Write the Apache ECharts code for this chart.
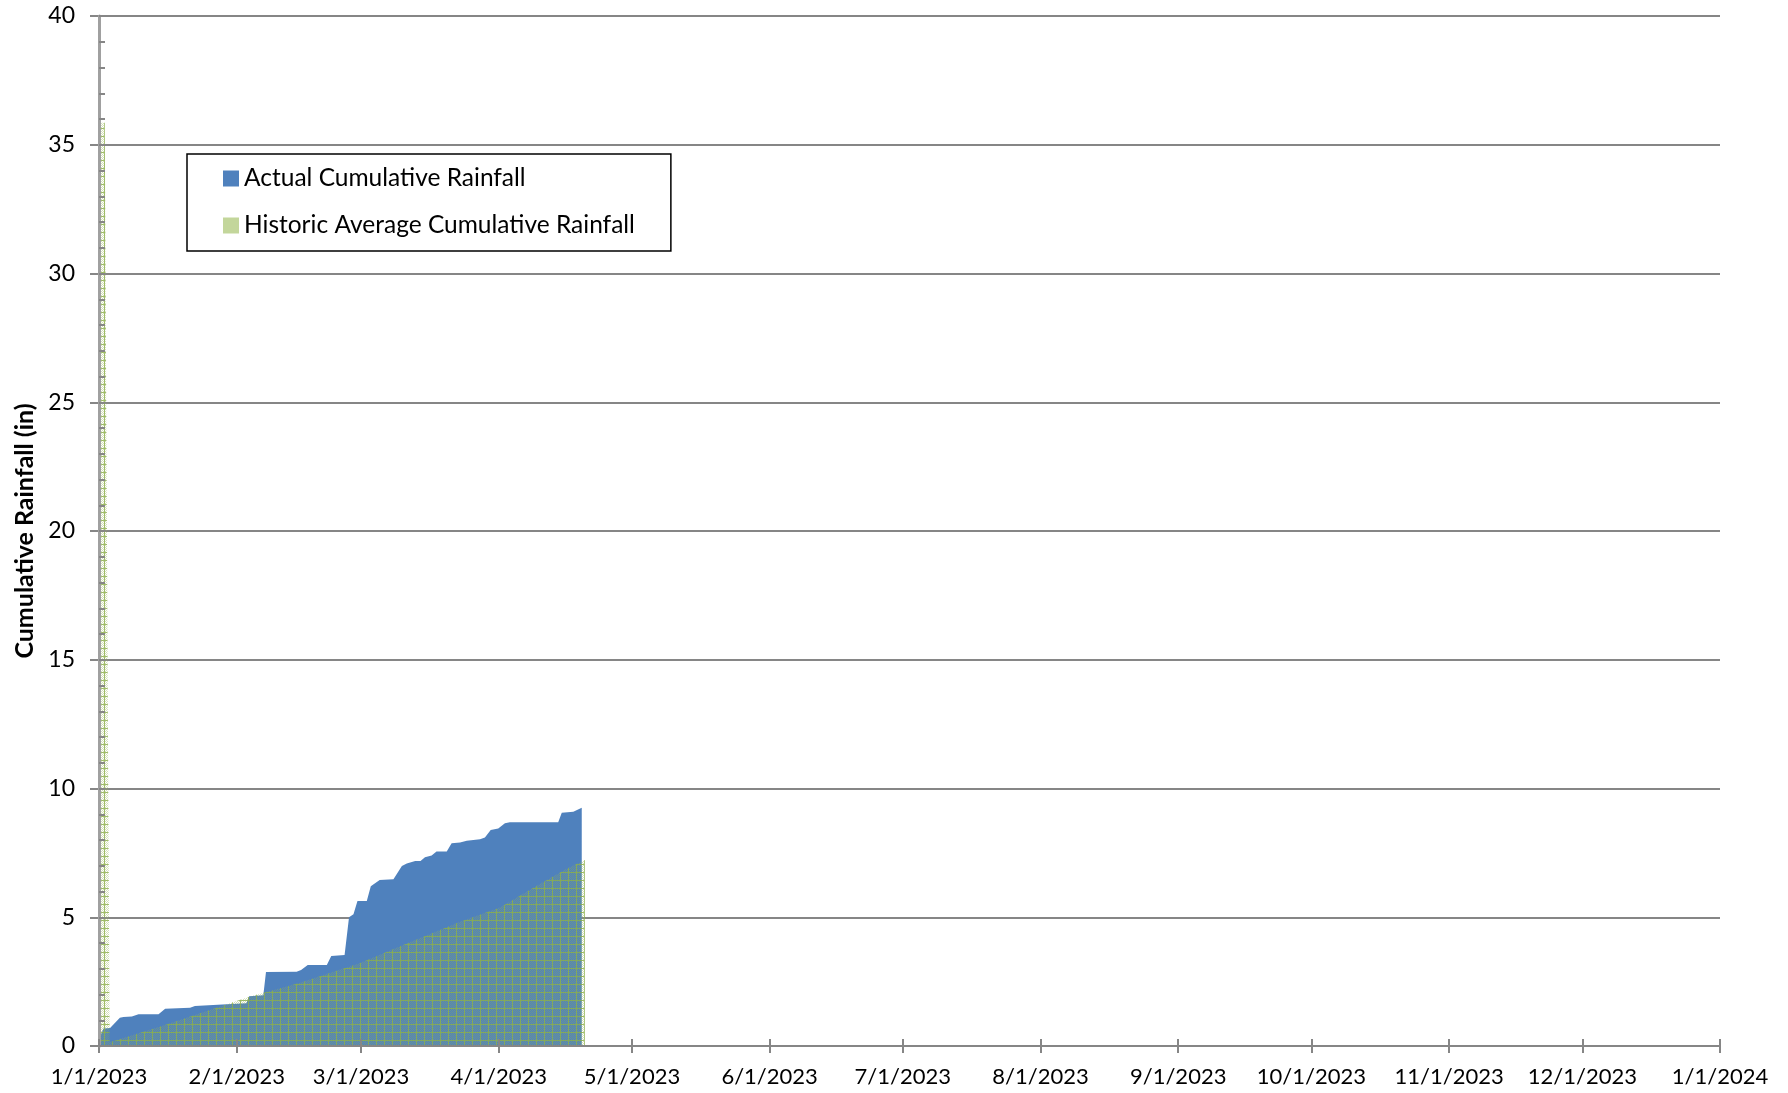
<!DOCTYPE html>
<html>
<head>
<meta charset="utf-8">
<script src="https://cdn.jsdelivr.net/npm/echarts@6/dist/echarts.min.js"></script>
<style>
html,body{margin:0;padding:0;background:#fff;}
#chart{width:1788px;height:1093px;}
</style>
</head>
<body>
<div id="chart"></div>
<script>
// Day offsets from 1/1/2023 for month starts, and their tick labels
const monthDays = [0, 31, 59, 90, 120, 151, 181, 212, 243, 273, 304, 334, 365];
const monthLabels = ['1/1/2023','2/1/2023','3/1/2023','4/1/2023','5/1/2023','6/1/2023','7/1/2023','8/1/2023','9/1/2023','10/1/2023','11/1/2023','12/1/2023','1/1/2024'];

// Actual cumulative rainfall: [day offset, inches]
const actualRain = [
  [0, 0.25], [1, 0.68], [2.5, 0.7], [4.7, 1.1], [5.5, 1.13], [7.4, 1.15], [8.9, 1.23],
  [13.4, 1.23], [14.9, 1.45], [20.5, 1.49], [21.6, 1.55], [28.8, 1.62], [33.2, 1.66],
  [33.8, 1.93], [37.0, 1.97], [37.6, 2.87], [44.5, 2.88], [45.5, 2.95], [47.0, 3.15],
  [51.3, 3.15], [52.3, 3.5], [55.3, 3.53], [56.3, 5.0], [57.3, 5.12], [58.2, 5.63],
  [60.3, 5.63], [61.2, 6.2], [63.2, 6.45], [66.3, 6.48], [68.2, 6.99], [69.3, 7.09],
  [71.2, 7.18], [72.4, 7.18], [73.4, 7.33], [74.9, 7.4], [76.0, 7.55], [78.3, 7.55],
  [79.4, 7.87], [81.3, 7.9], [82.8, 7.97], [85.8, 8.03], [86.9, 8.1], [88.2, 8.39],
  [89.9, 8.45], [91.4, 8.65], [92.5, 8.69], [103.4, 8.69], [104.2, 9.06], [106.8, 9.1],
  [108.7, 9.25]
];

// Historic average cumulative rainfall: [day offset, inches]
const historicRain = [
  [0, 35.85], [1.3, 35.85], [2.4, 0.15], [14.5, 0.8], [28.8, 1.62], [34.0, 1.92],
  [45.3, 2.46], [58.8, 3.22], [67.8, 3.87], [81.3, 4.83], [90.3, 5.38], [97.8, 6.15],
  [105.3, 6.88], [109.4, 7.22]
];

const seriesNames = ['Actual Cumulative Rainfall', 'Historic Average Cumulative Rainfall'];

// hatched pattern for the historic series
function makePattern() {
  const c = document.createElement('canvas');
  c.width = 8; c.height = 8;
  const ctx = c.getContext('2d');
  ctx.fillStyle = 'rgba(150,180,85,0.4)';
  for (let y = 0; y < 8; y++) {
    for (let x = 0; x < 8; x++) {
      if ((x + y) % 2 === 0) ctx.fillRect(x, y, 1, 1);
    }
  }
  ctx.fillStyle = 'rgba(140,175,75,0.8)';
  ctx.fillRect(0, 0, 8, 1);
  ctx.fillRect(0, 1, 1, 7);
  return c;
}

const FONT = 'Lato';
const GREY = '#868686';
const chart = echarts.init(document.getElementById('chart'), null, {renderer: 'canvas'});

const labelFmt = function (v) {
  const i = monthDays.indexOf(v);
  return i >= 0 ? monthLabels[i] : '';
};

chart.setOption({
  animation: false,
  backgroundColor: '#fff',
  grid: {left: 99, right: 68, top: 16, bottom: 47, containLabel: false},
  legend: {
    orient: 'vertical',
    left: 187, top: 154,
    padding: [11, 36, 12, 36],
    borderColor: '#000', borderWidth: 1.5,
    itemWidth: 16, itemHeight: 16, itemGap: 20,
    icon: 'rect',
    textStyle: {fontFamily: FONT, fontSize: 24.5, color: '#000', lineHeight: 27},
    data: seriesNames
  },
  xAxis: [
    {
      type: 'value', min: 0, max: 365, position: 'bottom', z: 0,
      axisLine: {show: false},
      axisTick: {show: true, inside: false, length: 7, customValues: monthDays,
                 lineStyle: {color: GREY, width: 2}},
      axisLabel: {show: true, customValues: monthDays, formatter: labelFmt, margin: 20,
                  fontFamily: FONT, fontSize: 22, color: '#000'},
      splitLine: {show: false}
    },
    {
      type: 'value', min: 0, max: 365, position: 'bottom', z: 5,
      axisLine: {show: true, onZero: false, lineStyle: {color: GREY, width: 2}},
      axisTick: {show: true, inside: true, length: 7, customValues: monthDays,
                 lineStyle: {color: GREY, width: 2}},
      axisLabel: {show: false},
      splitLine: {show: false}
    }
  ],
  yAxis: [
    {
      type: 'value', min: 0, max: 40, interval: 5, position: 'left', z: 0,
      name: 'Cumulative Rainfall (in)', nameLocation: 'middle', nameRotate: 90, nameGap: 62,
      nameTextStyle: {fontFamily: FONT, fontSize: 25, fontWeight: 'bold', color: '#000'},
      axisLine: {show: false},
      axisTick: {show: true, inside: false, length: 9, lineStyle: {color: GREY, width: 2}},
      axisLabel: {margin: 24, fontFamily: FONT, fontSize: 23, color: '#000'},
      splitLine: {show: true, lineStyle: {color: GREY, width: 2}}
    },
    {
      type: 'value', min: 0, max: 40, interval: 5, position: 'left', z: 5,
      axisLine: {show: true, onZero: false, lineStyle: {color: '#a0a0a0', width: 3}},
      axisTick: {show: true, inside: true, length: 6, lineStyle: {color: GREY, width: 2}},
      minorTick: {show: true, splitNumber: 5, length: 6, lineStyle: {color: GREY, width: 2}},
      axisLabel: {show: false},
      splitLine: {show: false}
    }
  ],
  series: [
    {
      name: seriesNames[0], type: 'line', xAxisIndex: 0, yAxisIndex: 0,
      data: actualRain, showSymbol: false, symbol: 'none',
      itemStyle: {color: '#4F81BD'},
      lineStyle: {width: 0, color: '#4F81BD'},
      areaStyle: {color: '#4F81BD', opacity: 1},
      z: 2
    },
    {
      name: seriesNames[1], type: 'line', xAxisIndex: 0, yAxisIndex: 0,
      data: historicRain, showSymbol: false, symbol: 'none',
      itemStyle: {color: '#C3D69B'},
      lineStyle: {width: 0, color: '#C3D69B'},
      areaStyle: {color: {image: makePattern(), repeat: 'repeat'}, opacity: 1},
      z: 3
    }
  ]
});
</script>
</body>
</html>
